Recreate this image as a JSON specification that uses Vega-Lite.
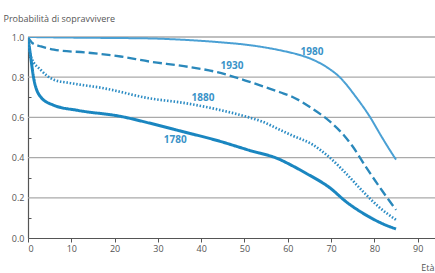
{
  "$schema": "https://vega.github.io/schema/vega-lite/v6.json",
  "width": 407,
  "height": 201,
  "autosize": {"type": "none"},
  "padding": {"left": 28, "top": 37, "right": 0, "bottom": 35},
  "background": "white",
  "config": {
    "view": {"stroke": null},
    "font": "Open Sans"
  },
  "datasets": {
    "grid": [
      {"g": 0.2}, {"g": 0.4}, {"g": 0.6}, {"g": 0.8}, {"g": 1.0}
    ],
    "curves": [
      {"year": "1780", "age": 0, "p": 1.0},
      {"year": "1780", "age": 0.5, "p": 0.92},
      {"year": "1780", "age": 1.4, "p": 0.785},
      {"year": "1780", "age": 3, "p": 0.7},
      {"year": "1780", "age": 6, "p": 0.66},
      {"year": "1780", "age": 11.5, "p": 0.635},
      {"year": "1780", "age": 21.4, "p": 0.605},
      {"year": "1780", "age": 28, "p": 0.572},
      {"year": "1780", "age": 36, "p": 0.528},
      {"year": "1780", "age": 43.7, "p": 0.485},
      {"year": "1780", "age": 51, "p": 0.437},
      {"year": "1780", "age": 58, "p": 0.392},
      {"year": "1780", "age": 61, "p": 0.36},
      {"year": "1780", "age": 64.4, "p": 0.32},
      {"year": "1780", "age": 69.7, "p": 0.25},
      {"year": "1780", "age": 73.5, "p": 0.18},
      {"year": "1780", "age": 78, "p": 0.115},
      {"year": "1780", "age": 82, "p": 0.07},
      {"year": "1780", "age": 85, "p": 0.045},
      {"year": "1880", "age": 0, "p": 1.0},
      {"year": "1880", "age": 0.7, "p": 0.9},
      {"year": "1880", "age": 3, "p": 0.835},
      {"year": "1880", "age": 6, "p": 0.787},
      {"year": "1880", "age": 10, "p": 0.77},
      {"year": "1880", "age": 17.5, "p": 0.745},
      {"year": "1880", "age": 28, "p": 0.695},
      {"year": "1880", "age": 36, "p": 0.672},
      {"year": "1880", "age": 43.7, "p": 0.64},
      {"year": "1880", "age": 51, "p": 0.6},
      {"year": "1880", "age": 54, "p": 0.58},
      {"year": "1880", "age": 58, "p": 0.54},
      {"year": "1880", "age": 61, "p": 0.51},
      {"year": "1880", "age": 65.7, "p": 0.465},
      {"year": "1880", "age": 69.7, "p": 0.4},
      {"year": "1880", "age": 73.5, "p": 0.32},
      {"year": "1880", "age": 77.2, "p": 0.235},
      {"year": "1880", "age": 81, "p": 0.155},
      {"year": "1880", "age": 85, "p": 0.09},
      {"year": "1930", "age": 0, "p": 1.0},
      {"year": "1930", "age": 1, "p": 0.97},
      {"year": "1930", "age": 3, "p": 0.953},
      {"year": "1930", "age": 6, "p": 0.937},
      {"year": "1930", "age": 13.8, "p": 0.922},
      {"year": "1930", "age": 21.4, "p": 0.903},
      {"year": "1930", "age": 28, "p": 0.878},
      {"year": "1930", "age": 36, "p": 0.855},
      {"year": "1930", "age": 43.7, "p": 0.825},
      {"year": "1930", "age": 51, "p": 0.778},
      {"year": "1930", "age": 58.2, "p": 0.725},
      {"year": "1930", "age": 61, "p": 0.703},
      {"year": "1930", "age": 65.7, "p": 0.643},
      {"year": "1930", "age": 69.7, "p": 0.58},
      {"year": "1930", "age": 73, "p": 0.51},
      {"year": "1930", "age": 75, "p": 0.455},
      {"year": "1930", "age": 78, "p": 0.355},
      {"year": "1930", "age": 81.8, "p": 0.235},
      {"year": "1930", "age": 85, "p": 0.14},
      {"year": "1980", "age": 0, "p": 1.0},
      {"year": "1980", "age": 10, "p": 0.997},
      {"year": "1980", "age": 20, "p": 0.995},
      {"year": "1980", "age": 28, "p": 0.993},
      {"year": "1980", "age": 36, "p": 0.986},
      {"year": "1980", "age": 43.7, "p": 0.975},
      {"year": "1980", "age": 51, "p": 0.96},
      {"year": "1980", "age": 58.2, "p": 0.934},
      {"year": "1980", "age": 62, "p": 0.915},
      {"year": "1980", "age": 65.7, "p": 0.888},
      {"year": "1980", "age": 69, "p": 0.85},
      {"year": "1980", "age": 72, "p": 0.8},
      {"year": "1980", "age": 75.8, "p": 0.7},
      {"year": "1980", "age": 78.9, "p": 0.605},
      {"year": "1980", "age": 81.5, "p": 0.51},
      {"year": "1980", "age": 83.2, "p": 0.45},
      {"year": "1980", "age": 85, "p": 0.39}
    ],
    "labels": [
      {"label": "1980", "age": 65.6, "p": 0.925},
      {"label": "1930", "age": 47.1, "p": 0.856},
      {"label": "1880", "age": 40.4, "p": 0.697},
      {"label": "1780", "age": 34.0, "p": 0.488}
    ]
  },
  "resolve": {"axis": {"y": "independent"}},
  "layer": [
    {
      "data": {"name": "grid"},
      "mark": {"type": "rule", "color": "#aaaaaa", "strokeWidth": 1.3},
      "encoding": {
        "y": {"field": "g", "type": "quantitative", "axis": null}
      }
    },
    {
      "data": {"name": "curves"},
      "mark": {"type": "line", "interpolate": "monotone", "clip": true},
      "encoding": {
        "x": {
          "field": "age", "type": "quantitative",
          "scale": {"domain": [0, 94], "nice": false, "zero": true},
          "axis": {
            "values": [0,5,10,15,20,25,30,35,40,45,50,55,60,65,70,75,80,85,90],
            "labelExpr": "datum.value % 10 === 0 ? datum.label : ''",
            "labelOverlap": false,
            "grid": false,
            "domainColor": "#555",
            "domainWidth": 1.2,
            "tickColor": "#555",
            "tickSize": {"condition": {"test": "datum.value % 10 === 0", "value": 4}, "value": -3},
            "labelColor": "#555",
            "labelFontSize": 9,
            "labelPadding": 2,
            "title": "Età",
            "titleFontWeight": "normal",
            "titleFontSize": 9,
            "titleColor": "#555",
            "titleAnchor": "end",
            "titleAlign": "right",
            "titleX": 406,
            "titleY": 32,
            "titleBaseline": "alphabetic"
          }
        },
        "y": {
          "field": "p", "type": "quantitative",
          "scale": {"domain": [0, 1], "nice": false},
          "axis": {
            "orient": "left",
            "values": [0.2,0.4,0.6,0.8,1.0],
            "grid": false,
            "domain": false,
            "ticks": false,
            "labels": false,
            "title": "Probabilità di sopravvivere",
            "titleAngle": 0,
            "titleAlign": "left",
            "titleBaseline": "alphabetic",
            "titleFontWeight": "normal",
            "titleFontSize": 9,
            "titleColor": "#555",
            "titleX": -25,
            "titleY": -16
          }
        },
        "color": {
          "field": "year", "type": "nominal",
          "scale": {"domain": ["1780","1880","1930","1980"], "range": ["#1a86c0","#2c8cc4","#2a88bb","#4aa0d4"]},
          "legend": null
        },
        "strokeDash": {
          "field": "year", "type": "nominal",
          "scale": {"domain": ["1780","1880","1930","1980"], "range": [[1,0],[1.5,1.8],[9,4],[1,0]]},
          "legend": null
        },
        "strokeWidth": {
          "field": "year", "type": "nominal",
          "scale": {"domain": ["1780","1880","1930","1980"], "range": [3, 2, 2.5, 1.5]},
          "legend": null
        }
      }
    },
    {
      "data": {"name": "labels"},
      "mark": {"type": "text", "fontWeight": "bold", "fontSize": 10, "color": "#3a93c8", "align": "center", "baseline": "middle"},
      "encoding": {
        "x": {"field": "age", "type": "quantitative"},
        "y": {
          "field": "p", "type": "quantitative",
          "axis": {
            "orient": "left",
            "values": [0,0.1,0.2,0.3,0.4,0.5,0.6,0.7,0.8,0.9,1.0],
            "format": ".1f",
            "labelExpr": "round(datum.value*10) % 2 === 0 ? datum.label : ''",
            "labelOverlap": false,
            "labelColor": "#555",
            "labelFontSize": 9,
            "labelPadding": 4,
            "grid": false,
            "domainColor": "#555",
            "domainWidth": 1.2,
            "tickColor": "#555",
            "tickSize": {"condition": {"test": "round(datum.value*10) % 2 === 0", "value": 0}, "value": -3},
            "title": null
          }
        },
        "text": {"field": "label"}
      }
    }
  ]
}
